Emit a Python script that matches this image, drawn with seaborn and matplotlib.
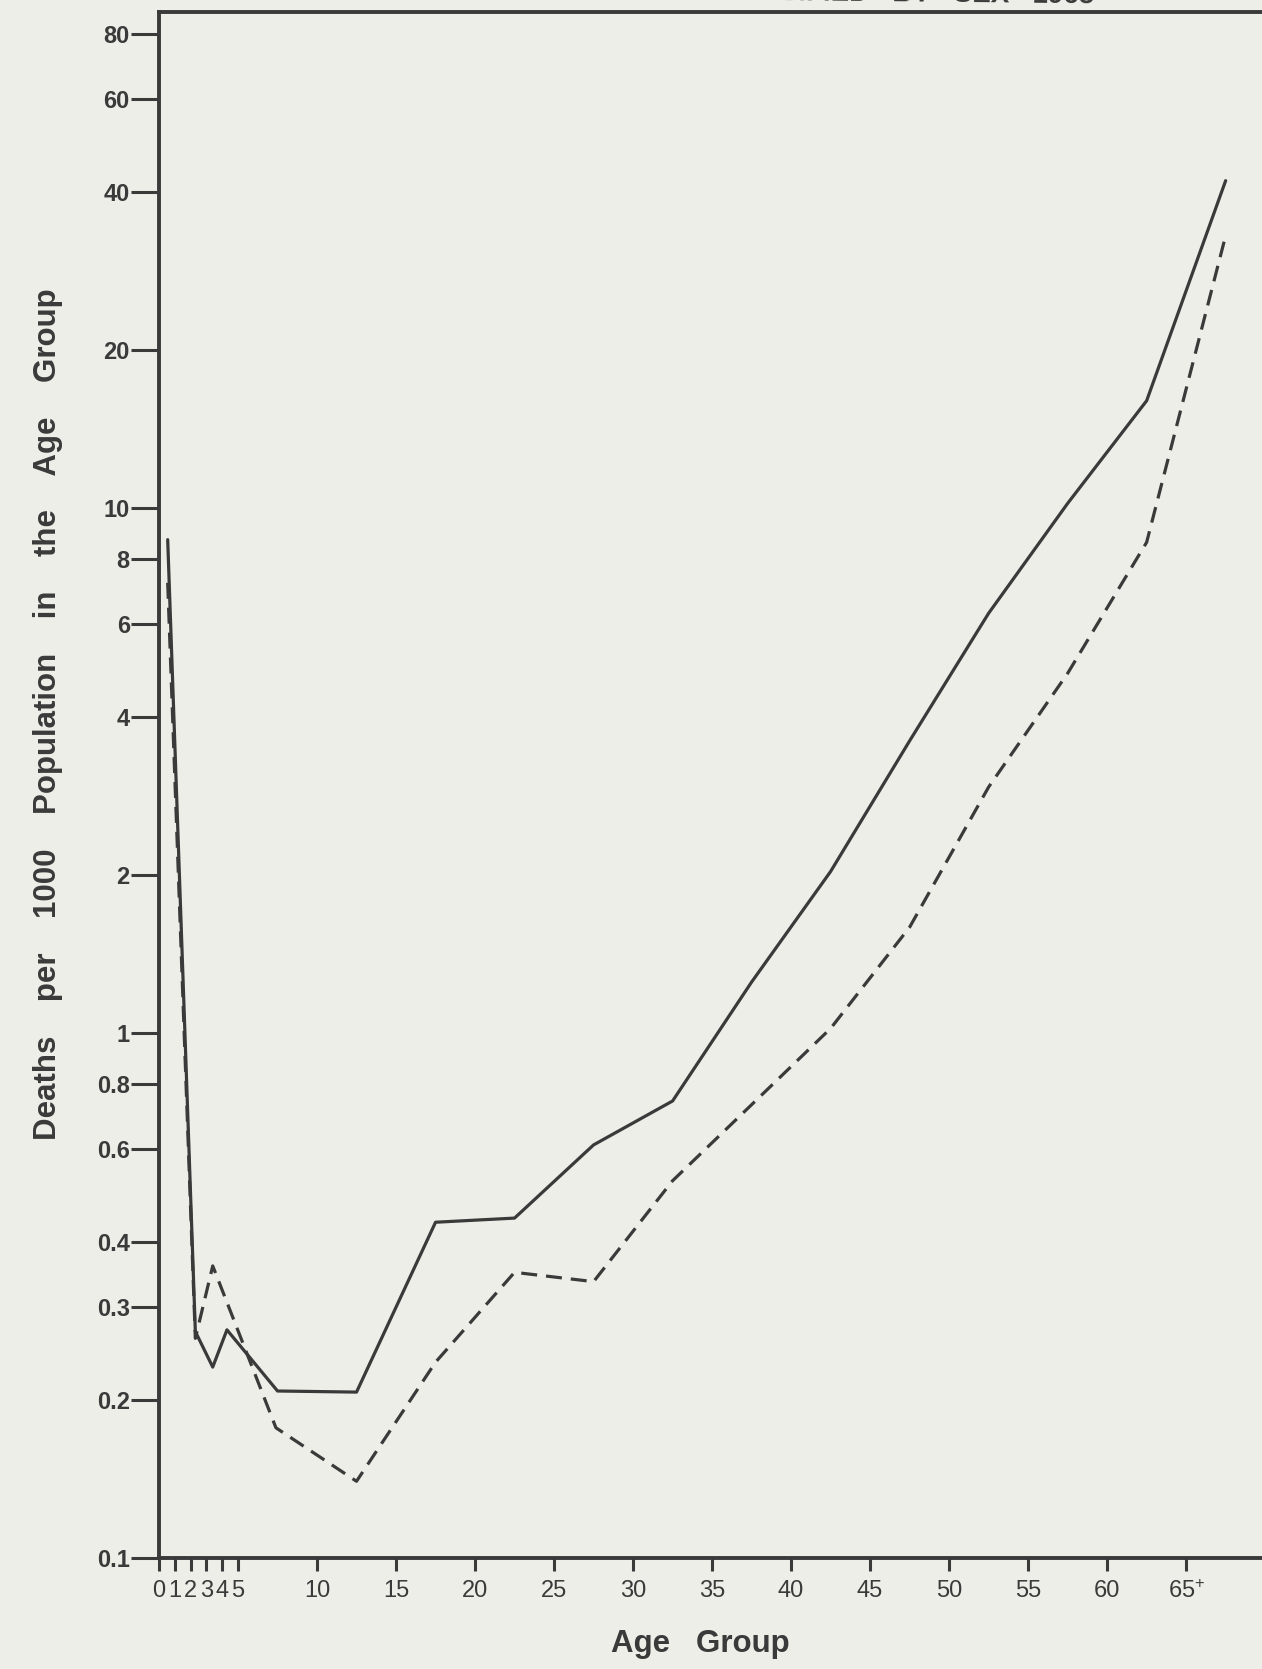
import numpy as np
import pandas as pd
import seaborn as sns
import matplotlib.pyplot as plt
from matplotlib.ticker import FixedLocator, FixedFormatter, NullLocator

# ---- data ----
solid_age = [0.55, 2.3, 3.4, 4.3, 7.5, 12.5, 17.5, 22.5, 27.5, 32.5, 37.5,
             42.5, 47.5, 52.5, 57.5, 62.5, 67.5]
solid_rate = [8.7, 0.27, 0.231, 0.272, 0.208, 0.207, 0.436, 0.444, 0.612, 0.742,
              1.25, 2.03, 3.6, 6.3, 10.2, 16.0, 42.0]

dashed_age = [0.55, 2.3, 3.4, 7.4, 12.5, 17.5, 22.5, 27.5, 32.5, 37.5,
              42.5, 47.5, 52.5, 57.5, 62.5, 67.5]
dashed_rate = [7.2, 0.262, 0.36, 0.177, 0.14, 0.236, 0.35, 0.336, 0.523, 0.73,
               1.02, 1.59, 2.94, 4.84, 8.6, 33.0]

y_ticks = [0.1, 0.2, 0.3, 0.4, 0.6, 0.8, 1, 2, 4, 6, 8, 10, 20, 40, 60, 80]
y_labels = ["0.1", "0.2", "0.3", "0.4", "0.6", "0.8", "1", "2", "4", "6", "8",
            "10", "20", "40", "60", "80"]
x_ticks = [0, 1, 2, 3, 4, 5, 10, 15, 20, 25, 30, 35, 40, 45, 50, 55, 60, 65]
x_labels = ["0", "1", "2", "3", "4", "5", "10", "15", "20", "25", "30", "35",
            "40", "45", "50", "55", "60", "65$^{+}$"]

series_names = ["solid", "dashed"]

df = pd.concat([
    pd.DataFrame({"age": solid_age, "rate": solid_rate, "series": series_names[0]}),
    pd.DataFrame({"age": dashed_age, "rate": dashed_rate, "series": series_names[1]}),
], ignore_index=True)

# ---- style ----
sns.set_theme(style="white")
plt.rcParams["font.family"] = ["Liberation Sans", "DejaVu Sans"]
plt.rcParams["mathtext.default"] = "regular"

bg = "#eeeee8"
ink = "#3a3a3a"

W, H = 1262, 1669
fig = plt.figure(figsize=(W / 100, H / 100), dpi=100, facecolor=bg)
ax = fig.add_axes([159 / W, 111 / H, 1103 / W, 1546 / H])
ax.set_facecolor(bg)

sns.lineplot(data=df, x="age", y="rate", style="series",
             dashes={"solid": "", "dashed": (5, 2.8)},
             color=ink, linewidth=2.3, ax=ax, legend=False,
             sort=False, estimator=None)

ax.set_yscale("log")
ax.set_ylim(0.1, 88)
ax.set_xlim(0, 69.8)

ax.yaxis.set_major_locator(FixedLocator(y_ticks))
ax.yaxis.set_major_formatter(FixedFormatter(y_labels))
ax.yaxis.set_minor_locator(NullLocator())
ax.xaxis.set_major_locator(FixedLocator(x_ticks))
ax.xaxis.set_major_formatter(FixedFormatter(x_labels))
ax.xaxis.set_minor_locator(NullLocator())

for side in ["left", "top", "bottom"]:
    ax.spines[side].set_visible(True)
    ax.spines[side].set_color(ink)
    ax.spines[side].set_linewidth(2.8)
ax.spines["right"].set_visible(False)

ax.tick_params(axis="y", which="major", direction="out", length=20, width=2.2,
               color=ink, labelcolor=ink, labelsize=17, pad=1, left=True)
ax.tick_params(axis="x", which="major", direction="out", length=9, width=2.2,
               color=ink, labelcolor=ink, labelsize=17, pad=7, bottom=True)
for lab in ax.get_yticklabels():
    lab.set_fontweight("bold")

ax.set_xlabel("")
ax.set_ylabel("")

fig.text(48 / W, 1 - 714 / H,
         "Deaths    per    1000    Population    in    the    Age    Group",
         rotation=90, ha="center", va="center", fontsize=22.5,
         fontweight="bold", color=ink)
fig.text(700 / W, 1 - 1644 / H, "Age   Group", ha="center", va="center",
         fontsize=22.5, fontweight="bold", color=ink)

# title cut off at the (slightly skewed) top edge of the scan
fig.text(1094 / W, 1 - 3 / H, "AGE SPECIFIC DEATH RATES CLASSIFIED   BY   SEX   1965",
         ha="right", va="baseline", rotation=-0.6, rotation_mode="anchor",
         fontsize=20, fontweight="bold", color=ink)

fig.savefig("out.png", dpi=100, facecolor=bg)
